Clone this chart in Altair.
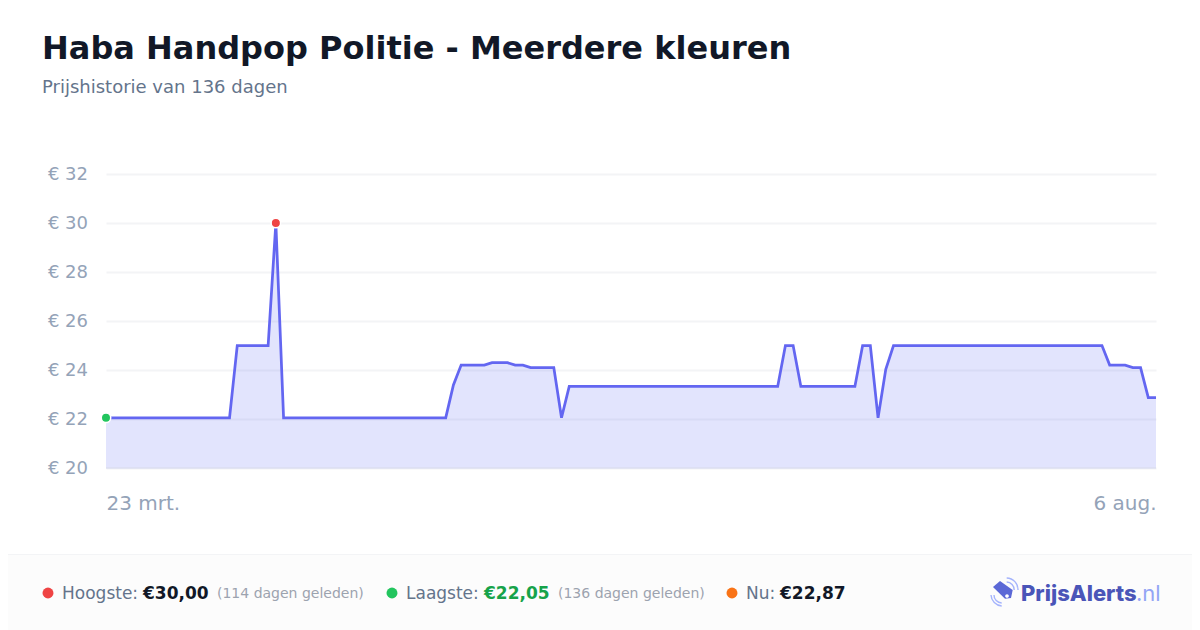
import altair as alt
import pandas as pd

days = [0, 16, 17, 21, 22, 23, 44, 45, 46, 49, 50, 52, 53, 54, 55, 58, 59, 60, 87, 88, 89, 90, 97, 98, 99, 100, 101, 102, 129, 130, 132, 133, 134, 135, 136]
prices = [22.05, 22.05, 25, 25, 30, 22.05, 22.05, 23.39, 24.2, 24.2, 24.3, 24.3, 24.2, 24.2, 24.1, 24.1, 22.05, 23.33, 23.33, 25, 25, 23.33, 23.33, 25, 25, 22.05, 24.03, 25, 25, 24.2, 24.2, 24.1, 24.1, 22.87, 22.87]
y_ticks = [20, 22, 24, 26, 28, 30, 32]
x_ticks = [0, 136]
x_labels = ["23 mrt.", "6 aug."]
title = "Haba Handpop Politie - Meerdere kleuren"
subtitle = "Prijshistorie van 136 dagen"

PX0, PY0 = 106, 174
FONT = "DejaVu Sans"
df = pd.DataFrame({"day": days, "price": prices})
x = alt.X("day:Q", scale=alt.Scale(domain=[0, 136], nice=False, zero=False),
          axis=alt.Axis(values=x_ticks, grid=False, domain=False, ticks=False, title=None,
                        labelExpr="datum.value == 0 ? '%s' : '%s'" % tuple(x_labels),
                        labelFlush=True, labelFontSize=20, labelColor="#94a3b8", labelFont=FONT,
                        labelPadding=25))
y = alt.Y("price:Q", scale=alt.Scale(domain=[20, 32], nice=False, zero=False),
          axis=alt.Axis(values=y_ticks, domain=False, ticks=False, title=None,
                        labelExpr="'€ ' + datum.value", labelFontSize=18, labelColor="#94a3b8",
                        labelFont=FONT, labelPadding=18.5, gridColor="#f3f4f6", gridWidth=2))


def rect(x0, x1, y0, y1, color):
    return alt.Chart(pd.DataFrame({"a": [0]})).mark_rect(color=color).encode(
        x=alt.value(x0 - PX0), x2=alt.value(x1 - PX0), y=alt.value(y0 - PY0), y2=alt.value(y1 - PY0))


def label(text, xp, size, color, weight="normal", font=FONT, yp=594):
    return alt.Chart(pd.DataFrame({"t": [text]})).mark_text(
        align="left", baseline="middle", fontSize=size, color=color, fontWeight=weight, font=font
    ).encode(x=alt.value(xp - PX0), y=alt.value(yp - PY0), text="t:N")


def dot(xp, color):
    return alt.Chart(pd.DataFrame({"a": [0]})).mark_point(
        filled=True, size=120, color=color, opacity=1).encode(x=alt.value(xp - PX0), y=alt.value(593 - PY0))


def glyph(path, xp, yp, size, fill=None, stroke=None):
    kw = {"filled": True, "color": fill} if fill else {"filled": False, "color": stroke, "strokeWidth": 1.4}
    return alt.Chart(pd.DataFrame({"a": [0]})).mark_point(shape=path, size=size, opacity=1, **kw).encode(
        x=alt.value(xp - PX0), y=alt.value(yp - PY0))


base = alt.Chart(df)
area = base.mark_area(color="#6370f5", opacity=0.19).encode(x=x, y=y, y2=alt.datum(20))
floor = alt.Chart(pd.DataFrame({"a": [0]})).mark_rule(color="#dcdff0", strokeWidth=1.5).encode(
    y=alt.datum(20), x=alt.value(0), x2=alt.value(1050))
line = base.mark_line(color="#6366f1", strokeWidth=2.75).encode(x=x, y=y)
lo = base.transform_filter("datum.day == 0").mark_point(
    filled=True, size=90, color="#22c55e", opacity=1, stroke="#ffffff", strokeWidth=1.5).encode(x=x, y=y)
hi = base.transform_filter("datum.day == 22").mark_point(
    filled=True, size=90, color="#ef4444", opacity=1, stroke="#ffffff", strokeWidth=1.5).encode(x=x, y=y)

layers = [
    rect(0, 1200, 555, 630, "#fcfcfc"),
    rect(0, 1200, 554, 555, "#f3f4f6"),
    area, floor, line, lo, hi,
    label(title, 42, 32, "#111827", "bold", yp=49),
    label(subtitle, 42, 18, "#64748b", yp=88),
    dot(48, "#ef4444"), label("Hoogste:", 62, 17, "#64748b"),
    label("€30,00", 143, 17, "#111827", "bold"), label("(114 dagen geleden)", 217, 14, "#9ca3af"),
    dot(392, "#22c55e"), label("Laagste:", 406, 17, "#64748b"),
    label("€22,05", 484, 17, "#16a34a", "bold"), label("(136 dagen geleden)", 558, 14, "#9ca3af"),
    dot(732, "#f97316"), label("Nu:", 746, 17, "#64748b"),
    label("€22,87", 780, 17, "#111827", "bold"),
    glyph("M 0.37 -1.2 A 1.15 1.15 0 0 1 1.5 0", 1003, 590, 400, stroke="#a5b4fc"),
    glyph("M 0.37 -0.8 A 0.78 0.78 0 0 1 1.12 0", 1003, 590, 400, stroke="#a5b4fc"),
    glyph("M -1.2 0.5 A 1.15 1.15 0 0 0 -0.13 1.6", 1003, 590, 400, stroke="#a5b4fc"),
    glyph("M -0.9 0.5 A 0.78 0.78 0 0 0 -0.13 1.3", 1003, 590, 400, stroke="#a5b4fc"),
    glyph("M -1 -0.3 L -0.3 -0.9 L 0.97 0 L 0.8 0.8 L 0.2 0.87 Z", 1003, 590, 400, fill="#5b68d6"),
    glyph("M -1 0 A 1 1 0 1 1 1 0 A 1 1 0 1 1 -1 0 Z", 1007, 596, 14, fill="#ffffff"),
    label("PrijsAlerts", 1021, 22, "#4a55b8", 800, font="Inter"),
    label(".nl", 1136, 22, "#93a5f5", font="Inter"),
]

chart = alt.layer(*layers).properties(
    width=1050, height=294,
    padding={"left": 98, "right": 36, "top": 166, "bottom": 162},
    autosize=alt.AutoSizeParams(type="none"),
).configure_view(stroke=None)

chart.save("out.html", embed_options={"renderer": "svg", "actions": False})
